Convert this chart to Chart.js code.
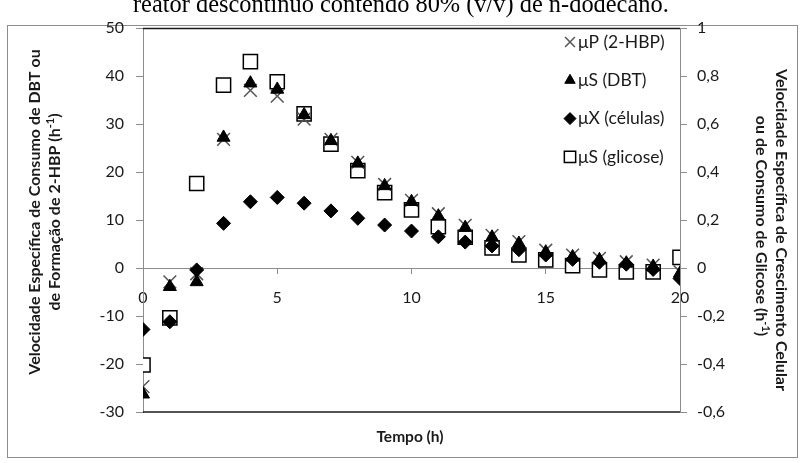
<!DOCTYPE html>
<html>
<head>
<meta charset="utf-8">
<script src="https://cdn.jsdelivr.net/npm/chart.js"></script>
<style>
  html, body { margin: 0; padding: 0; background: #fff; }
  #wrap { width: 805px; height: 463px; }
</style>
</head>
<body>
<div id="wrap"><canvas id="chart" width="805" height="463"></canvas></div>
<script>
// time (h)
const hours = [0, 1, 2, 3, 4, 5, 6, 7, 8, 9, 10, 11, 12, 13, 14, 15, 16, 17, 18, 19, 20];
// left axis: muP (2-HBP) and muS (DBT)
const muP = [-24.7, -2.9, -1.2, 26.8, 37.0, 35.8, 31.0, 26.8, 22.0, 17.4, 14.1, 11.3, 8.9, 6.8, 5.5, 3.7, 2.7, 2.0, 1.3, 0.6, -0.8];
const muS_dbt = [-26.3, -3.9, -2.9, 27.2, 38.5, 37.2, 31.9, 26.5, 21.8, 17.1, 13.8, 10.8, 8.4, 6.4, 5.1, 3.3, 2.3, 1.7, 1.0, 0.3, -1.1];
// right axis: muX (cells) and muS (glucose)
const muX = [-0.256, -0.224, -0.008, 0.186, 0.276, 0.294, 0.27, 0.238, 0.207, 0.179, 0.154, 0.13, 0.108, 0.092, 0.076, 0.054, 0.036, 0.024, 0.016, -0.006, -0.044];
const muS_gli = [-0.404, -0.208, 0.352, 0.762, 0.86, 0.776, 0.642, 0.516, 0.406, 0.314, 0.242, 0.172, 0.128, 0.084, 0.054, 0.034, 0.01, -0.008, -0.016, -0.016, 0.044];

const leftTicks = { min: -30, max: 50, step: 10 };
const rightTicks = { min: -0.6, max: 1, step: 0.2 };
const xTicks = { min: 0, max: 20, step: 5 };

const FONT = 'Lato, "Open Sans", sans-serif';
const CAPTION = 'reator descontínuo contendo 80% (v/v) de n-dodecano.';

function pts(ys) {
  return hours.map((h, i) => ({ x: h, y: ys[i] }));
}

// text with a superscript run, drawn at the current origin, centred
function richText(ctx, parts, size, bold) {
  const base = (bold ? 'bold ' : '') + size + 'px ' + FONT;
  const sup = (bold ? 'bold ' : '') + Math.round(size * 0.7) + 'px ' + FONT;
  let total = 0;
  parts.forEach(p => { ctx.font = p.sup ? sup : base; total += ctx.measureText(p.t).width; });
  let x = -total / 2;
  ctx.textAlign = 'left';
  ctx.textBaseline = 'middle';
  parts.forEach(p => {
    ctx.font = p.sup ? sup : base;
    ctx.fillText(p.t, x, p.sup ? -size * 0.3 : 0);
    x += ctx.measureText(p.t).width;
  });
}

const decor = {
  id: 'decor',
  beforeDraw(chart) {
    const ctx = chart.ctx;
    ctx.save();
    ctx.fillStyle = '#fff';
    ctx.fillRect(0, 0, chart.width, chart.height);
    // chart frame
    ctx.strokeStyle = '#8c8c8c';
    ctx.lineWidth = 1;
    ctx.strokeRect(7.5, 25.5, 790, 432);
    // caption line above the frame, sized to span 133..670
    ctx.fillStyle = '#000';
    ctx.font = '20px "Liberation Serif", "Times New Roman", serif';
    const w = ctx.measureText(CAPTION).width;
    const fs = 20 * 537 / w;
    ctx.font = fs.toFixed(1) + 'px "Liberation Serif", "Times New Roman", serif';
    ctx.textAlign = 'left';
    ctx.textBaseline = 'alphabetic';
    ctx.fillText(CAPTION, 133, 12);
    ctx.restore();
  },
  afterDatasetsDraw(chart) {
    const ctx = chart.ctx;
    const a = chart.chartArea;
    ctx.save();
    ctx.strokeStyle = '#1a1a1a';
    ctx.lineWidth = 1.5;
    ctx.beginPath();
    ctx.moveTo(a.left, a.top + 0.5); ctx.lineTo(a.right, a.top + 0.5);
    ctx.moveTo(a.left, a.bottom); ctx.lineTo(a.right, a.bottom);
    ctx.stroke();

    // axis titles
    ctx.fillStyle = '#1a1a1a';
    ctx.save();
    ctx.translate(35, 212);
    ctx.rotate(-Math.PI / 2);
    richText(ctx, [{ t: 'Velocidade Específica de Consumo de DBT ou' }], 16, true);
    ctx.restore();
    ctx.save();
    ctx.translate(55, 212);
    ctx.rotate(-Math.PI / 2);
    richText(ctx, [{ t: 'de Formação de 2-HBP (h' }, { t: '-1', sup: true }, { t: ')' }], 16, true);
    ctx.restore();
    ctx.save();
    ctx.translate(781, 230);
    ctx.rotate(Math.PI / 2);
    richText(ctx, [{ t: 'Velocidade Específica de Crescimento Celular' }], 16, true);
    ctx.restore();
    ctx.save();
    ctx.translate(761, 226);
    ctx.rotate(Math.PI / 2);
    richText(ctx, [{ t: 'ou de Consumo de Glicose (h' }, { t: '-1', sup: true }, { t: ')' }], 16, true);
    ctx.restore();
    ctx.save();
    ctx.translate(410, 437);
    richText(ctx, [{ t: 'Tempo (h)' }], 15.5, true);
    ctx.restore();

    // legend
    const rows = [0, 1, 2, 3].map(i => chart.data.datasets.find(d => d.legendRow === i));
    rows.forEach((ds, i) => {
      const y = 42 + i * 38.3;
      ctx.save();
      ctx.lineWidth = ds.borderWidth;
      ctx.strokeStyle = ds.borderColor;
      ctx.fillStyle = ds.backgroundColor;
      Chart.helpers.drawPoint(ctx, {
        pointStyle: ds.pointStyle, rotation: 0, borderWidth: ds.borderWidth, radius: ds.legendRadius
      }, 570, y);
      ctx.restore();
      ctx.fillStyle = '#1a1a1a';
      ctx.font = '17.5px ' + FONT;
      ctx.textAlign = 'left';
      ctx.textBaseline = 'middle';
      ctx.fillText(ds.label, 578, y);
    });
    ctx.restore();
  }
};

const tickFont = { family: FONT, size: 16 };

new Chart(document.getElementById('chart'), {
  type: 'scatter',
  data: {
    datasets: [
      {
        label: 'μX (células)', legendRow: 2, legendRadius: 6, order: 0, yAxisID: 'y2',
        data: pts(muX), pointStyle: 'rectRot', pointRadius: 7,
        backgroundColor: '#000', borderColor: '#000', borderWidth: 1
      },
      {
        label: 'μS (DBT)', legendRow: 1, legendRadius: 6, order: 1, yAxisID: 'y',
        data: pts(muS_dbt), pointStyle: 'triangle', pointRadius: 7.5,
        backgroundColor: '#000', borderColor: '#000', borderWidth: 1
      },
      {
        label: 'μP (2-HBP)', legendRow: 0, legendRadius: 7, order: 2, yAxisID: 'y',
        data: pts(muP), pointStyle: 'crossRot', pointRadius: 9,
        backgroundColor: '#555', borderColor: '#555', borderWidth: 1.5
      },
      {
        label: 'μS (glicose)', legendRow: 3, legendRadius: 8, order: 3, yAxisID: 'y2',
        data: pts(muS_gli), pointStyle: 'rect', pointRadius: 10,
        backgroundColor: '#fff', borderColor: '#000', borderWidth: 1.5
      }
    ]
  },
  options: {
    responsive: false,
    animation: false,
    events: [],
    layout: { padding: { left: 0, right: 0, top: 28, bottom: 51 } },
    plugins: { legend: { display: false }, tooltip: { enabled: false } },
    scales: {
      x: {
        type: 'linear',
        position: { y: 0 },
        min: xTicks.min, max: xTicks.max,
        ticks: { stepSize: xTicks.step, color: '#1a1a1a', font: tickFont, padding: 15, maxRotation: 0 },
        grid: { drawOnChartArea: false, drawTicks: true, tickLength: 5, color: '#8c8c8c' },
        border: { color: '#8c8c8c', width: 1 }
      },
      y: {
        position: 'left',
        min: leftTicks.min, max: leftTicks.max,
        ticks: { stepSize: leftTicks.step, color: '#1a1a1a', font: tickFont, padding: 12 },
        grid: { drawOnChartArea: false, tickLength: 7, color: '#8c8c8c' },
        border: { color: '#8c8c8c', width: 1 },
        afterFit(s) { s.width = 143; }
      },
      y2: {
        position: 'right',
        min: rightTicks.min, max: rightTicks.max,
        ticks: {
          stepSize: rightTicks.step, color: '#1a1a1a', font: tickFont, padding: 10,
          callback: v => String(Number(v.toFixed(1))).replace('.', ',')
        },
        grid: { drawOnChartArea: false, tickLength: 7, color: '#8c8c8c' },
        border: { color: '#8c8c8c', width: 1 },
        afterFit(s) { s.width = 125; }
      }
    }
  },
  plugins: [decor]
});
</script>
</body>
</html>
